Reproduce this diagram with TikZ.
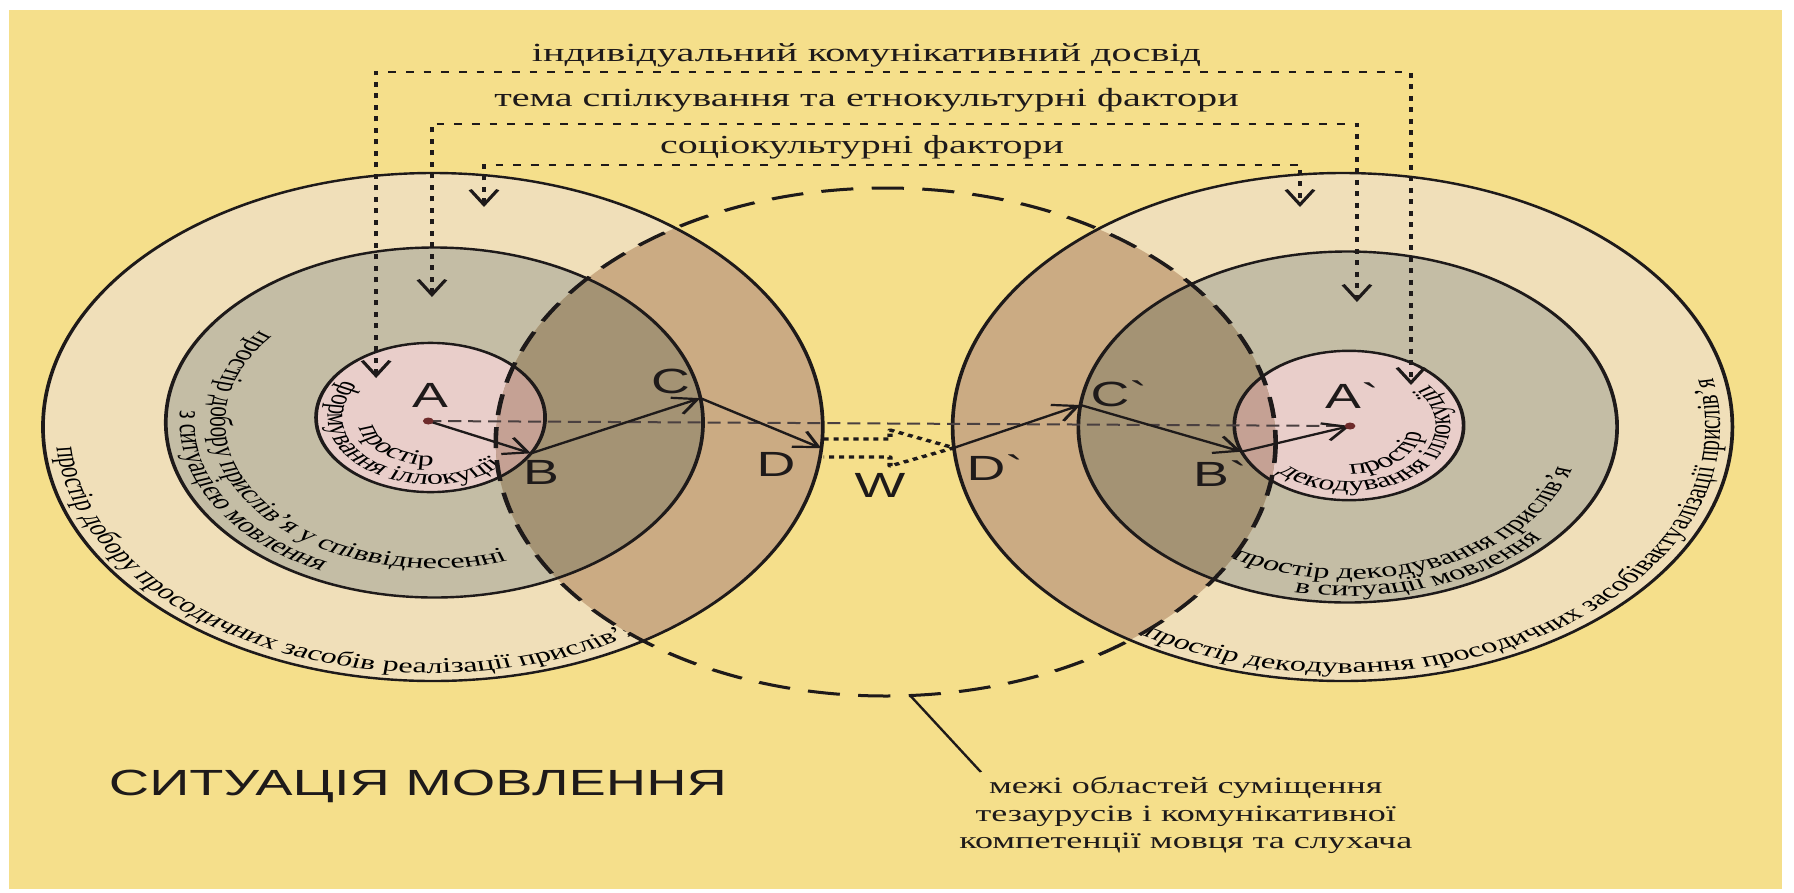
\documentclass[tikz,border=0pt]{standalone}
\usepackage{graphicx}
\usepackage{fontspec}
\setmainfont{Liberation Serif}
\newfontfamily\lblfont{Liberation Sans}
\usetikzlibrary{calc,arrows.meta,decorations.text}

\definecolor{paper}{HTML}{F5DF8B}
\definecolor{ringout}{HTML}{F0DFB9}
\definecolor{ringmid}{HTML}{C4BDA5}
\definecolor{ringin}{HTML}{E9CECA}
\definecolor{lapout}{HTML}{CBAB83}
\definecolor{lapmid}{HTML}{A49374}
\definecolor{lapin}{HTML}{C5A194}
\definecolor{ink}{HTML}{1E1A1A}
\definecolor{axisgray}{HTML}{4A4040}
\definecolor{dotred}{HTML}{6E2B2B}

\newcommand\arcfont{\fontsize{21}{24}\selectfont}

\tikzset{
  rimline/.style={draw=ink, line width=2.4pt},
  overlapline/.style={draw=ink, line width=3pt, dash pattern=on 21pt off 12pt},
  flowarrow/.style={draw=ink, line width=2.2pt, -{Straight Barb[length=15pt,width=18pt]}},
  axisline/.style={draw=axisgray, line width=2pt, dash pattern=on 8.5pt off 4.5pt},
  factorline/.style={draw=ink, line width=2.8pt, dash pattern=on 5pt off 6.5pt,
    {Straight Barb[length=15pt,width=18pt,line width=2.4pt]}-{Straight Barb[length=15pt,width=18pt,line width=2.4pt]}},
  transferline/.style={draw=ink, line width=3.3pt, dash pattern=on 3.3pt off 3.2pt, line join=round},
  ptlabel/.style={font=\lblfont\fontsize{35}{36}\selectfont, inner sep=0pt, text=ink},
  ringtext/.style={decorate, decoration={text along path, text align=left, text={|\arcfont|#1}}},
  notetext/.style={font=\fontsize{23.5}{27}\selectfont, inner sep=0pt, anchor=base, text=ink},
}

\begin{document}
\begin{tikzpicture}[x=1pt,y=-1pt]
\useasboundingbox (0,0) rectangle (1794,892);
\fill[white] (0,0) rectangle (1794,892);
\fill[paper] (9,10) rectangle (1782,889);

\begin{scope}[transform canvas={xscale=1.535}]
  % centres of the two speaker/listener systems and of the overlap zone
  \coordinate (LO) at (282,427);
  \coordinate (LM) at (283,422.5);
  \coordinate (LI) at (280.5,417.5);
  \coordinate (RO) at (874.6,427);
  \coordinate (RM) at (878,427);
  \coordinate (RI) at (878.8,425.5);
  \coordinate (DC) at (577,442);

  % discs
  \fill[ringout] (LO) circle[radius=254];
  \fill[ringmid] (LM) circle[radius=175];
  \fill[ringin]  (LI) circle[radius=74.6];
  \fill[ringout] (RO) circle[radius=254];
  \fill[ringmid] (RM) circle[radius=175.5];
  \fill[ringin]  (RI) circle[radius=74.7];

  % captions along the rings
  \path[ringtext={простір добору просодичних засобів реалізації прислів’я}]
    ($(LO)+(175.3:246)$) arc[start angle=175.3, end angle=20, radius=246];
  \path[ringtext={простір добору прислів’я у співвіднесенні}]
    ($(LM)+(219:146)$) arc[start angle=219, end angle=30, radius=146];
  \path[ringtext={з ситуацією мовлення}]
    ($(LM)+(184:166)$) arc[start angle=184, end angle=60, radius=166];
  \path[ringtext={простір}]
    ($(LI)+(168:48)$) arc[start angle=168, end angle=40, radius=48];
  \path[ringtext={формування іллокуції}]
    ($(LI)+(213:67)$) arc[start angle=213, end angle=-10, radius=67];
  \path[ringtext={простір}]
    ($(RI)+(89:48.5)$) arc[start angle=89, end angle=-60, radius=48.5];
  \path[ringtext={декодування іллокуції}]
    ($(RI)+(134.6:66)$) arc[start angle=134.6, end angle=-80, radius=66];
  \path[ringtext={простір декодування прислів’я}]
    ($(RM)+(120:152)$) arc[start angle=120, end angle=-30, radius=152];
  \path[ringtext={в ситуації мовлення}]
    ($(RM)+(102:169)$) arc[start angle=102, end angle=0, radius=169];
  \path[ringtext={простір декодування просодичних засобівактуалізації прислів’я}]
    ($(RO)+(122:246)$) arc[start angle=122, end angle=-40, radius=246];

  % overlap of each system with the shared zone
  \begin{scope}
    \clip (DC) circle[radius=254];
    \fill[lapout] (LO) circle[radius=254];
    \fill[lapmid] (LM) circle[radius=175];
    \fill[lapin]  (LI) circle[radius=74.6];
    \fill[lapout] (RO) circle[radius=254];
    \fill[lapmid] (RM) circle[radius=175.5];
    \fill[lapin]  (RI) circle[radius=74.7];
  \end{scope}

  % outlines
  \draw[rimline] (LO) circle[radius=254];
  \draw[rimline] (LM) circle[radius=175];
  \draw[rimline] (LI) circle[radius=74.6];
  \draw[rimline] (RO) circle[radius=254];
  \draw[rimline] (RM) circle[radius=175.5];
  \draw[rimline] (RI) circle[radius=74.7];
  \draw[overlapline] (DC) circle[radius=254];

  % points of the path
  \coordinate (A)  at (279,421);
  \coordinate (Ap) at (879.5,426);
  \coordinate (B)  at ($(LI)+(28.7:74.6)$);
  \coordinate (C)  at ($(LM)+(-8:175)$);
  \coordinate (D)  at ($(LO)+(4.8:254)$);
  \coordinate (Dp) at ($(RO)+(175.3:254)$);
  \coordinate (Cp) at ($(RM)+(187.2:175.5)$);
  \coordinate (Bp) at ($(RI)+(159.5:74.7)$);

  \draw[axisline] (A) -- (Ap);
  \draw[flowarrow] (A) -- (B);
  \draw[flowarrow] (B) -- (C);
  \draw[flowarrow] (C) -- (D);
  \draw[flowarrow] (Dp) -- (Cp);
  \draw[flowarrow] (Cp) -- (Bp);
  \draw[flowarrow] (Bp) -- (Ap);
  \fill[dotred] (A) circle[radius=3.5];
  \fill[dotred] (Ap) circle[radius=3.5];

  % transfer between D and D`
  \coordinate (w1) at (536.5,439);
  \coordinate (w2) at (579.8,439);
  \coordinate (w3) at (579.8,430);
  \coordinate (w5) at (579.8,466);
  \coordinate (w6) at (579.8,457);
  \coordinate (w7) at (536.5,457);
  \draw[transferline] (w1) -- (w2) -- (w3) -- (Dp) -- (w5) -- (w6) -- (w7);

  % point labels
  \node[ptlabel] (lA)  at (280.1,395)   {A};
  \node[ptlabel] (lB)  at (352.4,472.5) {B};
  \node[ptlabel] (lC)  at (436.8,381.5) {C};
  \node[ptlabel] (lD)  at (505.5,464.5) {D};
  \node[ptlabel] (lW)  at (573.3,485.5) {W};
  \node[ptlabel] (lDp) at (648.2,467.5) {D\textasciigrave};
  \node[ptlabel] (lCp) at (729,393.5)   {C\textasciigrave};
  \node[ptlabel] (lBp) at (794.8,473.5) {B\textasciigrave};
  \node[ptlabel] (lAp) at (880.8,395.5) {A\textasciigrave};

  % factor lines
  \coordinate (f1a) at (245,378);   \coordinate (f1b) at (245,72);
  \coordinate (f1c) at (919.2,72);  \coordinate (f1d) at (919.2,385);
  \coordinate (f2a) at (281.4,297); \coordinate (f2b) at (281.4,124);
  \coordinate (f2c) at (884,124);   \coordinate (f2d) at (884,302);
  \coordinate (f3a) at (315.3,207); \coordinate (f3b) at (315.3,165);
  \coordinate (f3c) at (846.9,165); \coordinate (f3d) at (846.9,207);
  \draw[factorline] (f1a) -- (f1b) -- (f1c) -- (f1d);
  \draw[factorline] (f2a) -- (f2b) -- (f2c) -- (f2d);
  \draw[factorline] (f3a) -- (f3b) -- (f3c) -- (f3d);

  \node[anchor=base, inner sep=0pt, text=ink] (t1) at (564.5,61)
    {\resizebox{436pt}{!}{індивідуальний комунікативний досвід}};
  \node[anchor=base, inner sep=0pt, text=ink] (t2) at (564.5,106)
    {\resizebox{485pt}{!}{тема спілкування та етнокультурні фактори}};
  \node[anchor=base, inner sep=0pt, text=ink] (t3) at (561.6,153)
    {\resizebox{263pt}{!}{соціокультурні фактори}};

  % titles and note
  \node[anchor=base, inner sep=0pt, text=ink, font=\lblfont] (sit) at (272.3,795)
    {\resizebox{402.6pt}{!}{СИТУАЦІЯ МОВЛЕННЯ}};
  \node[notetext] (n1) at (772.5,793) {межі областей суміщення};
  \node[notetext] (n2) at (772.5,821) {тезаурусів і комунікативної};
  \node[notetext] (n3) at (772.5,848) {компетенції мовця та слухача};
  \coordinate (leadend) at (639,772);
  \draw[ink, line width=1.8pt] ($(DC)+(86.4:254)$) -- (leadend);
\end{scope}
\end{tikzpicture}
\end{document}
